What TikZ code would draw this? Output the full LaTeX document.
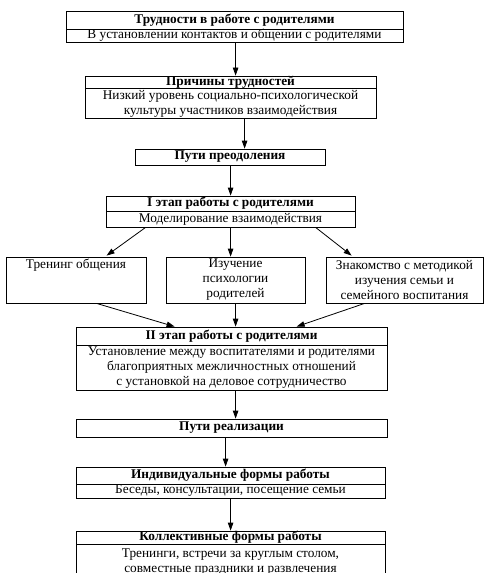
\documentclass[tikz,border=0pt]{standalone}
\usepackage{fontspec}
\setmainfont{Liberation Serif}
\usetikzlibrary{arrows.meta}
\begin{document}
\begin{tikzpicture}[x=1pt,y=-1pt,
  box/.style={draw, line width=0.8pt, inner sep=0pt, align=center, font=\fontsize{13.3}{15}\selectfont},
  hdr/.style={box, font=\fontsize{13.3}{15}\selectfont\bfseries},
  arr/.style={line width=0.8pt, -{Triangle[length=8pt,width=5.5pt]}}]
\clip (0,0) rectangle (485,573);
\fill[white] (0,0) rectangle (485,573);
% Box 1
\node[hdr, minimum width=337pt, minimum height=18pt] (b1h) at (234.5,20) {Трудности в работе с родителями};
\node[box, minimum width=337pt, minimum height=13pt] (b1b) at (234.5,35.5) {В установлении контактов и общении с родителями};
% Box 2
\node[hdr, minimum width=291pt, minimum height=12pt] (b2h) at (230.5,82) {Причины трудностей};
\node[box, minimum width=291pt, minimum height=30pt] (b2b) at (230.5,103.5) {Низкий уровень социально-психологической\\культуры участников взаимодействия};
% Пути преодоления
\node[hdr, minimum width=190pt, minimum height=16pt] (p1) at (230,157) {Пути преодоления};
% I этап
\node[hdr, minimum width=249pt, minimum height=15pt] (e1h) at (230.5,203.5) {I этап работы с родителями};
\node[box, minimum width=249pt, minimum height=16pt] (e1b) at (230.5,219) {Моделирование взаимодействия};
% Three boxes
\node[box, minimum width=140pt, minimum height=46pt] (l) at (76,280) {};
\node[font=\fontsize{13.3}{15}\selectfont, anchor=base, inner sep=0pt] (lt) at ([yshift=-11.5pt]l.north) {Тренинг общения};
\node[box, minimum width=139pt, minimum height=46pt] (m) at (235.5,280) {Изучение\\психологии\\родителей};
\node[box, minimum width=157pt, minimum height=46pt] (r) at (404.5,280) {Знакомство с методикой\\изучения семьи и\\семейного воспитания};
% II этап
\node[hdr, minimum width=311pt, minimum height=18pt] (e2h) at (231.5,336) {II этап работы с родителями};
\node[box, minimum width=311pt, minimum height=45pt] (e2b) at (231.5,367.5) {Установление между воспитателями и родителями\\благоприятных межличностных отношений\\с установкой на деловое сотрудничество};
% Пути реализации
\node[hdr, minimum width=311pt, minimum height=18pt] (p2) at (231.5,428) {Пути реализации};
% Индивидуальные
\node[hdr, minimum width=309pt, minimum height=17pt] (ih) at (230.5,475.5) {Индивидуальные формы работы};
\node[box, minimum width=309pt, minimum height=14pt] (ib) at (230.5,491) {Беседы, консультации, посещение семьи};
% Коллективные
\node[hdr, minimum width=309pt, minimum height=13pt] (kh) at (230.5,537.5) {Коллективные формы работы};
\node[box, minimum width=309pt, minimum height=36pt] (kb) at (230.5,562) {Тренинги, встречи за круглым столом,\\совместные праздники и развлечения};
% Arrows
\draw[arr] ([xshift=170pt]b1b.south west) -- ([xshift=151pt]b2h.north west);
\draw[arr] ([xshift=160pt]b2b.south west) -- ([xshift=110pt]p1.north west);
\draw[arr] ([xshift=96pt]p1.south west) -- ([xshift=125pt]e1h.north west);
\draw[arr] ([xshift=40pt]e1b.south west) -- ([xshift=101pt,yshift=1pt]l.north west);
\draw[arr] ([xshift=125pt]e1b.south west) -- ([xshift=65pt]m.north west);
\draw[arr] ([xshift=210pt]e1b.south west) -- ([xshift=26pt,yshift=1pt]r.north west);
\draw[arr] ([xshift=91pt]l.south west) -- ([xshift=99pt]e2h.north west);
\draw[arr] ([xshift=70pt]m.south west) -- ([xshift=160pt]e2h.north west);
\draw[arr] ([xshift=39pt]r.south west) -- ([xshift=221pt]e2h.north west);
\draw[arr] ([xshift=160pt]e2b.south west) -- ([xshift=160pt]p2.north west);
\draw[arr] ([xshift=150pt]p2.south west) -- ([xshift=150pt]ih.north west);
\draw[arr] ([xshift=155pt]ib.south west) -- ([xshift=155pt]kh.north west);
\end{tikzpicture}
\end{document}
